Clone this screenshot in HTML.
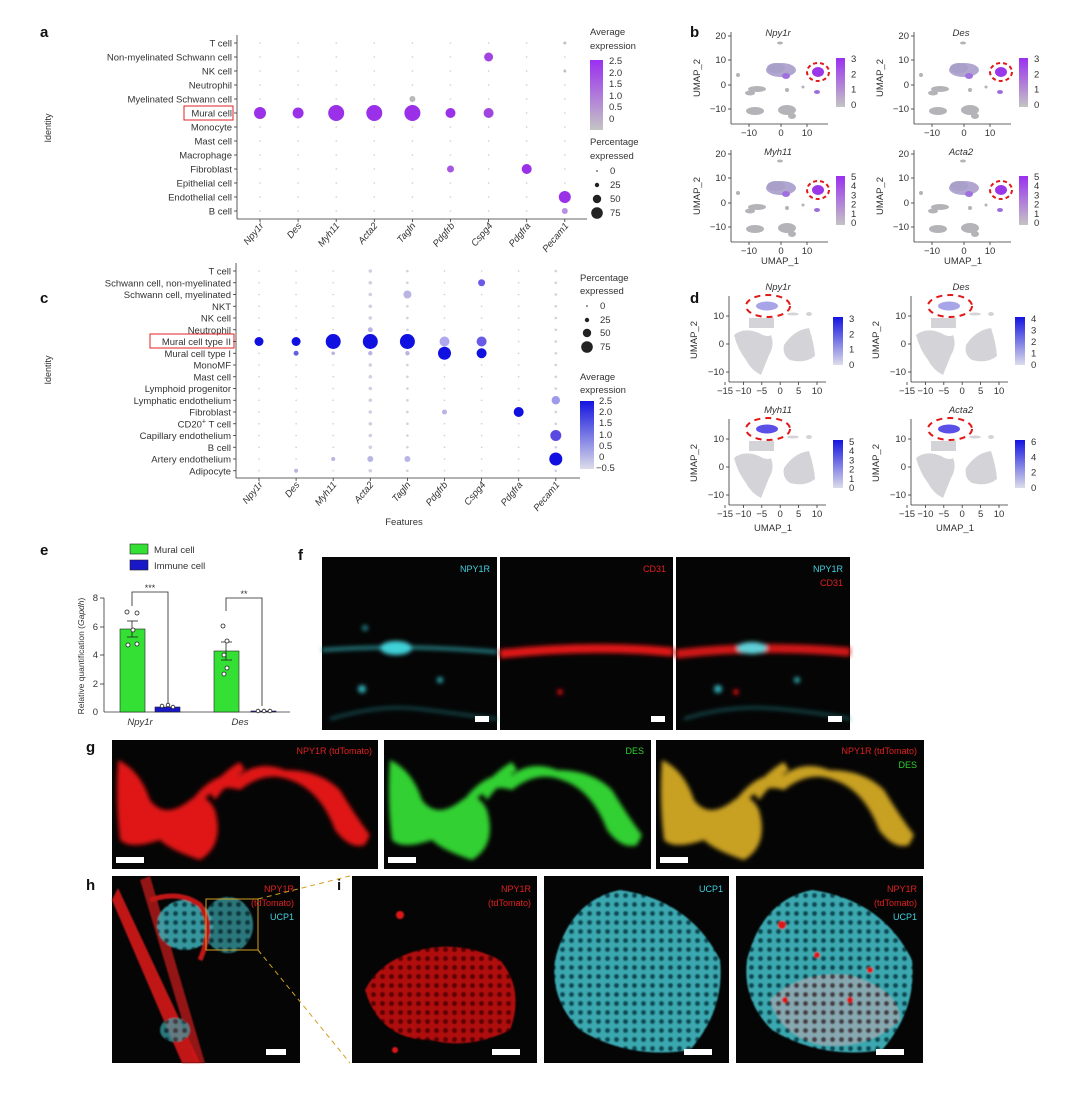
<!DOCTYPE html>
<html><head><meta charset="utf-8">
<style>
html,body{margin:0;padding:0;background:#fff;}
svg{display:block;font-family:"Liberation Sans",sans-serif;}
.t{font-size:9.5px;fill:#333;}
.s{font-size:9px;fill:#333;}
.b{font-size:15px;font-weight:bold;fill:#111;}
.it{font-style:italic;}
</style></head><body>
<svg id="S" width="1080" height="1094" viewBox="0 0 1080 1094" xmlns="http://www.w3.org/2000/svg">
<defs>
<linearGradient id="gp" x1="0" y1="0" x2="0" y2="1"><stop offset="0" stop-color="#9a30f0"/><stop offset="1" stop-color="#c4c4c4"/></linearGradient>
<linearGradient id="gb" x1="0" y1="0" x2="0" y2="1"><stop offset="0" stop-color="#1414e0"/><stop offset="1" stop-color="#dcdcea"/></linearGradient>
<filter id="bl" x="-20%" y="-20%" width="140%" height="140%"><feGaussianBlur stdDeviation="2"/></filter>
<filter id="bl1"><feGaussianBlur stdDeviation="0.8"/></filter>
<pattern id="cy" width="9" height="9" patternUnits="userSpaceOnUse"><rect width="9" height="9" fill="#3aa8b0"/><circle cx="4.5" cy="4.5" r="2.6" fill="#0d4a52"/></pattern>
<pattern id="rd" width="9" height="9" patternUnits="userSpaceOnUse"><rect width="9" height="9" fill="#b01010"/><circle cx="4.5" cy="4.5" r="2.6" fill="#5a0606"/></pattern>
<pattern id="mx" width="9" height="9" patternUnits="userSpaceOnUse"><rect width="9" height="9" fill="#8fa8b0"/><circle cx="4.5" cy="4.5" r="2.6" fill="#4a3a40"/></pattern>
</defs>

<text class="b" x="40" y="37">a</text>
<text class="b" x="40" y="303">c</text>
<text class="b" x="690" y="37">b</text>
<text class="b" x="690" y="303">d</text>
<text class="b" x="40" y="555">e</text>
<text class="b" x="298" y="560">f</text>
<text class="b" x="86" y="752">g</text>
<text class="b" x="86" y="890">h</text>
<text class="b" x="337" y="890">i</text>

<!-- Panel a -->
<g id="pa">
<line x1="237" y1="35" x2="237" y2="219" stroke="#333" stroke-width="0.8"/>
<line x1="237" y1="219" x2="587" y2="219" stroke="#333" stroke-width="0.8"/>
<g class="t" text-anchor="end">
<text x="232" y="46.5">T cell</text>
<text x="232" y="60.5">Non-myelinated Schwann cell</text>
<text x="232" y="74.5">NK cell</text>
<text x="232" y="88.5">Neutrophil</text>
<text x="232" y="102.5">Myelinated Schwann cell</text>
<text x="232" y="116.5">Mural cell</text>
<text x="232" y="130.5">Monocyte</text>
<text x="232" y="144.5">Mast cell</text>
<text x="232" y="158.5">Macrophage</text>
<text x="232" y="172.5">Fibroblast</text>
<text x="232" y="186.5">Epithelial cell</text>
<text x="232" y="200.5">Endothelial cell</text>
<text x="232" y="214.5">B cell</text>
</g>
<rect x="184" y="106" width="49" height="14" fill="none" stroke="#e02020" stroke-width="1"/>
<text class="s" transform="translate(51,128) rotate(-90)" text-anchor="middle">Identity</text>
<g class="t it" text-anchor="end">
<text transform="translate(264,226) rotate(-50)">Npy1r</text>
<text transform="translate(302,226) rotate(-50)">Des</text>
<text transform="translate(340,226) rotate(-50)">Myh11</text>
<text transform="translate(378,226) rotate(-50)">Acta2</text>
<text transform="translate(416,226) rotate(-50)">Tagln</text>
<text transform="translate(455,226) rotate(-50)">Pdgfrb</text>
<text transform="translate(493,226) rotate(-50)">Cspg4</text>
<text transform="translate(531,226) rotate(-50)">Pdgfra</text>
<text transform="translate(569,226) rotate(-50)">Pecam1</text>
</g>
<text class="t" x="590" y="35">Average</text>
<text class="t" x="590" y="49">expression</text>
<rect x="590" y="60" width="13" height="70" fill="url(#gp)"/>
<g class="t"><text x="609" y="64">2.5</text><text x="609" y="76">2.0</text><text x="609" y="87">1.5</text><text x="609" y="99">1.0</text><text x="609" y="110">0.5</text><text x="609" y="122">0</text></g>
<text class="t" x="590" y="145">Percentage</text>
<text class="t" x="590" y="159">expressed</text>
<circle cx="597" cy="171" r="0.8" fill="#222"/><circle cx="597" cy="185" r="2.2" fill="#222"/><circle cx="597" cy="199" r="4.2" fill="#222"/><circle cx="597" cy="213" r="5.8" fill="#222"/>
<g class="t"><text x="610" y="174">0</text><text x="610" y="188">25</text><text x="610" y="202">50</text><text x="610" y="216">75</text></g>
</g>

<!-- Panel c -->
<g id="pc">
<line x1="236" y1="263" x2="236" y2="478" stroke="#333" stroke-width="0.8"/>
<line x1="236" y1="478" x2="580" y2="478" stroke="#333" stroke-width="0.8"/>
<g class="t" text-anchor="end">
<text x="231" y="274.5">T cell</text>
<text x="231" y="286.3">Schwann cell, non-myelinated</text>
<text x="231" y="298">Schwann cell, myelinated</text>
<text x="231" y="309.8">NKT</text>
<text x="231" y="321.5">NK cell</text>
<text x="231" y="333.3">Neutrophil</text>
<text x="231" y="345">Mural cell type II</text>
<text x="231" y="356.8">Mural cell type I</text>
<text x="231" y="368.5">MonoMF</text>
<text x="231" y="380.3">Mast cell</text>
<text x="231" y="392">Lymphoid progenitor</text>
<text x="231" y="403.8">Lymphatic endothelium</text>
<text x="231" y="415.5">Fibroblast</text>
<text x="231" y="427.3">CD20<tspan font-size="7" dy="-4">+</tspan><tspan dy="4"> T cell</tspan></text>
<text x="231" y="439">Capillary endothelium</text>
<text x="231" y="450.8">B cell</text>
<text x="231" y="462.5">Artery endothelium</text>
<text x="231" y="474.3">Adipocyte</text>
</g>
<rect x="150" y="334" width="84" height="14" fill="none" stroke="#e02020" stroke-width="1"/>
<text class="s" transform="translate(51,370) rotate(-90)" text-anchor="middle">Identity</text>
<g class="t it" text-anchor="end">
<text transform="translate(263,485) rotate(-50)">Npy1r</text>
<text transform="translate(300,485) rotate(-50)">Des</text>
<text transform="translate(337,485) rotate(-50)">Myh11</text>
<text transform="translate(374,485) rotate(-50)">Acta2</text>
<text transform="translate(411,485) rotate(-50)">Tagln</text>
<text transform="translate(448,485) rotate(-50)">Pdgfrb</text>
<text transform="translate(486,485) rotate(-50)">Cspg4</text>
<text transform="translate(523,485) rotate(-50)">Pdgfra</text>
<text transform="translate(560,485) rotate(-50)">Pecam1</text>
</g>
<text class="t" x="404" y="525" text-anchor="middle">Features</text>
<text class="t" x="580" y="281">Percentage</text>
<text class="t" x="580" y="294">expressed</text>
<circle cx="587" cy="306" r="0.8" fill="#222"/><circle cx="587" cy="320" r="2.2" fill="#222"/><circle cx="587" cy="333" r="4.2" fill="#222"/><circle cx="587" cy="347" r="5.8" fill="#222"/>
<g class="t"><text x="600" y="309">0</text><text x="600" y="323">25</text><text x="600" y="336">50</text><text x="600" y="350">75</text></g>
<text class="t" x="580" y="380">Average</text>
<text class="t" x="580" y="393">expression</text>
<rect x="580" y="401" width="14" height="68" fill="url(#gb)"/>
<g class="t"><text x="599" y="404">2.5</text><text x="599" y="415">2.0</text><text x="599" y="426">1.5</text><text x="599" y="438">1.0</text><text x="599" y="449">0.5</text><text x="599" y="460">0</text><text x="596" y="471">−0.5</text></g>
</g>

<g id="dots"></g>
<g id="umb"></g>
<g class="t">
<text class="it" x="778" y="36" text-anchor="middle">Npy1r</text>
<text class="it" x="961" y="36" text-anchor="middle">Des</text>
<text class="it" x="778" y="155" text-anchor="middle">Myh11</text>
<text class="it" x="961" y="155" text-anchor="middle">Acta2</text>
<text class="it" x="778" y="290" text-anchor="middle">Npy1r</text>
<text class="it" x="961" y="290" text-anchor="middle">Des</text>
<text class="it" x="778" y="413" text-anchor="middle">Myh11</text>
<text class="it" x="961" y="413" text-anchor="middle">Acta2</text>
<text x="780" y="264" text-anchor="middle">UMAP_1</text>
<text x="963" y="264" text-anchor="middle">UMAP_1</text>
<text x="773" y="531" text-anchor="middle">UMAP_1</text>
<text x="955" y="531" text-anchor="middle">UMAP_1</text>
</g>

<!-- Panel e -->
<g id="pe">
<rect x="130" y="544" width="18" height="10" fill="#33e033" stroke="#222" stroke-width="0.6"/>
<text class="t" x="154" y="553">Mural cell</text>
<rect x="130" y="560" width="18" height="10" fill="#1818c8" stroke="#222" stroke-width="0.6"/>
<text class="t" x="154" y="569">Immune cell</text>
<text class="s" transform="translate(84,656) rotate(-90)" text-anchor="middle" style="font-size:8.5px">Relative quantification (<tspan font-style="italic">Gapdh</tspan>)</text>
<line x1="104" y1="598" x2="104" y2="712" stroke="#333" stroke-width="0.8"/>
<line x1="104" y1="712" x2="290" y2="712" stroke="#333" stroke-width="0.8"/>
<g class="t" text-anchor="end"><text x="98" y="601">8</text><text x="98" y="630">6</text><text x="98" y="658">4</text><text x="98" y="687">2</text><text x="98" y="715">0</text></g>
<g stroke="#333" stroke-width="0.8"><line x1="100" y1="598" x2="104" y2="598"/><line x1="100" y1="627" x2="104" y2="627"/><line x1="100" y1="655" x2="104" y2="655"/><line x1="100" y1="684" x2="104" y2="684"/></g>
<rect x="120" y="629" width="25" height="83" fill="#33e033" stroke="#222" stroke-width="0.6"/>
<rect x="155" y="707" width="25" height="5" fill="#1818c8" stroke="#222" stroke-width="0.6"/>
<rect x="214" y="651" width="25" height="61" fill="#33e033" stroke="#222" stroke-width="0.6"/>
<rect x="251" y="711" width="25" height="1" fill="#1818c8" stroke="#222" stroke-width="0.6"/>
<g stroke="#222" stroke-width="0.8" fill="none">
<line x1="132" y1="621" x2="132" y2="637"/><line x1="127" y1="621" x2="138" y2="621"/><line x1="127" y1="637" x2="138" y2="637"/>
<line x1="226" y1="642" x2="226" y2="660"/><line x1="221" y1="642" x2="232" y2="642"/><line x1="221" y1="660" x2="232" y2="660"/>
<polyline points="132,606 132,592 168,592 168,704"/>
<polyline points="226,611 226,598 262,598 262,706"/>
</g>
<g fill="#fff" stroke="#222" stroke-width="0.8">
<circle cx="127" cy="612" r="2"/><circle cx="137" cy="613" r="2"/><circle cx="133" cy="630" r="2"/><circle cx="128" cy="645" r="2"/><circle cx="137" cy="644" r="2"/>
<circle cx="162" cy="706" r="1.8"/><circle cx="168" cy="705" r="1.8"/><circle cx="173" cy="707" r="1.8"/>
<circle cx="223" cy="626" r="2"/><circle cx="227" cy="641" r="2"/><circle cx="224" cy="655" r="2"/><circle cx="227" cy="668" r="2"/><circle cx="224" cy="674" r="2"/>
<circle cx="258" cy="711" r="1.8"/><circle cx="264" cy="711" r="1.8"/><circle cx="270" cy="711" r="1.8"/>
</g>
<g class="t" text-anchor="middle"><text x="150" y="591" style="font-size:9px">***</text><text x="244" y="597" style="font-size:9px">**</text>
<text class="it" x="140" y="725">Npy1r</text><text class="it" x="240" y="725">Des</text></g>
</g>

<!-- Panel f -->
<g id="pf">
<rect x="322" y="557" width="175" height="173" fill="#050505"/>
<rect x="500" y="557" width="173" height="173" fill="#050505"/>
<rect x="676" y="557" width="174" height="173" fill="#050505"/>
<g filter="url(#bl)">
<path d="M322,650 Q400,644 497,652" stroke="#2a9aa0" stroke-width="3" fill="none"/>
<ellipse cx="396" cy="648" rx="16" ry="7" fill="#40d0d8"/>
<circle cx="362" cy="689" r="4" fill="#30b0b8"/><circle cx="440" cy="680" r="3" fill="#30b0b8"/><circle cx="365" cy="628" r="3" fill="#227f86"/>
<path d="M330,719 Q380,704 420,709 T497,719" stroke="#1c6a70" stroke-width="2" fill="none"/>
<path d="M500,654 Q590,644 673,652" stroke="#e01818" stroke-width="9" fill="none"/>
<circle cx="560" cy="692" r="3" fill="#d01010"/>
<path d="M676,654 Q760,644 850,652" stroke="#d01818" stroke-width="9" fill="none"/>
<ellipse cx="752" cy="648" rx="15" ry="6" fill="#60d0d8"/>
<circle cx="718" cy="689" r="4" fill="#30b0b8"/><circle cx="797" cy="680" r="3" fill="#30b0b8"/><circle cx="736" cy="692" r="3" fill="#d01010"/>
<path d="M684,719 Q730,704 780,709 T850,719" stroke="#1c6a70" stroke-width="2" fill="none"/>
</g>
<g style="font-size:9px"><text x="490" y="572" text-anchor="end" fill="#40d0e0">NPY1R</text>
<text x="666" y="572" text-anchor="end" fill="#e02020">CD31</text>
<text x="843" y="572" text-anchor="end" fill="#40d0e0">NPY1R</text>
<text x="843" y="586" text-anchor="end" fill="#e02020">CD31</text></g>
<g fill="#fff"><rect x="475" y="716" width="14" height="6"/><rect x="651" y="716" width="14" height="6"/><rect x="828" y="716" width="14" height="6"/></g>
</g>

<!-- Panel g -->
<g id="pg">
<rect x="112" y="740" width="266" height="129" fill="#050505"/>
<rect x="384" y="740" width="267" height="129" fill="#050505"/>
<rect x="656" y="740" width="268" height="129" fill="#050505"/>
<g id="gshape" filter="url(#bl)">
<path d="M118,760 Q140,770 150,800 Q165,820 190,800 Q205,790 215,810 Q225,845 200,860 Q170,850 160,840 Q130,850 120,840 Q115,800 118,760 Z"/>
<path d="M190,820 Q210,780 240,790 Q265,770 290,780 Q320,790 335,830 Q350,850 365,845 L370,835 Q355,815 340,790 Q320,770 285,770 Q260,760 240,775 Q210,770 185,810 Z"/>
<path d="M208,790 Q225,770 240,762 L245,770 Q230,780 215,800 Z"/>
</g>
<use href="#gshape" fill="#e01818"/>
<use href="#gshape" fill="#30d030" transform="translate(272,0)"/>
<use href="#gshape" fill="#c8a020" transform="translate(544,0)"/>
<g style="font-size:9px"><text x="372" y="754" text-anchor="end" fill="#e02020">NPY1R (tdTomato)</text>
<text x="644" y="754" text-anchor="end" fill="#30d030">DES</text>
<text x="917" y="754" text-anchor="end" fill="#e02020">NPY1R (tdTomato)</text>
<text x="917" y="768" text-anchor="end" fill="#30d030">DES</text></g>
<g fill="#fff"><rect x="116" y="857" width="28" height="6"/><rect x="388" y="857" width="28" height="6"/><rect x="660" y="857" width="28" height="6"/></g>
</g>

<!-- Panel h -->
<g id="ph">
<rect x="112" y="876" width="188" height="187" fill="#050505"/>
<g filter="url(#bl1)">
<path d="M112,900 L118,888 L200,1063 L182,1063 Z" fill="#c01515"/>
<path d="M140,880 L150,876 L205,1063 L195,1063 Z" fill="#d01a1a" opacity="0.7"/>
<ellipse cx="185" cy="925" rx="28" ry="25" fill="url(#cy)" opacity="0.9"/>
<ellipse cx="228" cy="925" rx="25" ry="28" fill="url(#cy)" opacity="0.7"/>
<ellipse cx="175" cy="1030" rx="15" ry="12" fill="url(#cy)" opacity="0.7"/>
<path d="M150,900 Q180,890 200,905 Q215,925 200,960" stroke="#c01515" stroke-width="5" fill="none"/>
</g>
<rect x="206" y="899" width="52" height="51" fill="none" stroke="#d0a020" stroke-width="1"/>
<g style="font-size:9px" text-anchor="end"><text x="294" y="892" fill="#e02020">NPY1R</text><text x="294" y="906" fill="#e02020">(tdTomato)</text><text x="294" y="920" fill="#40d0e0">UCP1</text></g>
<rect x="266" y="1049" width="20" height="6" fill="#fff"/>
</g>
<g stroke="#d0a020" stroke-width="1" stroke-dasharray="5,4"><line x1="258" y1="899" x2="350" y2="876"/><line x1="258" y1="950" x2="350" y2="1063"/></g>

<!-- Panel i -->
<g id="pi">
<rect x="352" y="876" width="185" height="187" fill="#050505"/>
<rect x="544" y="876" width="185" height="187" fill="#050505"/>
<rect x="736" y="876" width="187" height="187" fill="#050505"/>
<g filter="url(#bl1)">
<path d="M365,990 Q380,960 420,950 Q460,940 500,960 Q525,990 510,1030 Q470,1050 430,1040 Q380,1040 365,990 Z" fill="url(#rd)"/>
<circle cx="400" cy="915" r="4" fill="#e01818"/><circle cx="395" cy="1050" r="3" fill="#e01818"/>
<path d="M555,960 Q570,900 620,890 Q690,900 720,960 Q725,1010 690,1050 Q630,1060 580,1030 Q550,1000 555,960 Z" fill="url(#cy)"/>
<path d="M747,960 Q762,900 812,890 Q882,900 912,960 Q917,1010 882,1050 Q822,1060 772,1030 Q742,1000 747,960 Z" fill="url(#cy)"/>
<path d="M770,1000 Q800,970 850,975 Q900,990 900,1020 Q870,1050 820,1045 Q780,1035 770,1000 Z" fill="url(#mx)" opacity="0.9"/>
<circle cx="817" cy="955" r="3" fill="#e01818"/><circle cx="850" cy="1000" r="3" fill="#e01818"/><circle cx="785" cy="1000" r="3" fill="#e01818"/><circle cx="870" cy="970" r="3" fill="#e01818"/><circle cx="782" cy="925" r="4" fill="#e01818"/>
</g>
<g style="font-size:9px" text-anchor="end"><text x="531" y="892" fill="#e02020">NPY1R</text><text x="531" y="906" fill="#e02020">(tdTomato)</text>
<text x="723" y="892" fill="#40d0e0">UCP1</text>
<text x="917" y="892" fill="#e02020">NPY1R</text><text x="917" y="906" fill="#e02020">(tdTomato)</text><text x="917" y="920" fill="#40d0e0">UCP1</text></g>
<g fill="#fff"><rect x="492" y="1049" width="28" height="6"/><rect x="684" y="1049" width="28" height="6"/><rect x="876" y="1049" width="28" height="6"/></g>
</g>
</svg>
<script>
(function(){
var NS="http://www.w3.org/2000/svg",D=document.getElementById("dots");
function c(g,x,y,r,f){var e=document.createElementNS(NS,"circle");e.setAttribute("cx",x);e.setAttribute("cy",y);e.setAttribute("r",r);e.setAttribute("fill",f);g.appendChild(e);return e;}
function l(g,x1,y1,x2,y2,w,col,da){var e=document.createElementNS(NS,"line");e.setAttribute("x1",x1);e.setAttribute("y1",y1);e.setAttribute("x2",x2);e.setAttribute("y2",y2);e.setAttribute("stroke",col||"#333");e.setAttribute("stroke-width",w||0.8);if(da)e.setAttribute("stroke-dasharray",da);g.appendChild(e);}
var i,j,AY=43,AS=14,CY=271,CS=11.75;
for(j=0;j<13;j++){l(D,234,AY+j*AS,237,AY+j*AS);for(i=0;i<9;i++)c(D,260+i*38.1,AY+j*AS,0.8,"#ccc");}
for(i=0;i<9;i++)l(D,260+i*38.1,219,260+i*38.1,222);
var P="#9a30e8",A=[[0,5,6,P],[1,5,5.5,P],[2,5,8,P],[3,5,8,P],[4,5,8,P],[5,5,5,P],[6,5,5,"#a045e0"],[6,1,4.5,"#a045e0"],[4,4,3,"#b8b8b8"],[5,9,3.5,"#a858e0"],[7,9,5,P],[8,11,6,P],[8,12,3,"#b890e0"],[8,0,1.5,"#c0c0c0"],[8,2,1.5,"#c0c0c0"]];
A.forEach(function(a){c(D,260+a[0]*38.1,AY+a[1]*AS,a[2],a[3]);});
for(j=0;j<18;j++){l(D,233,CY+j*CS,236,CY+j*CS);for(i=0;i<9;i++)c(D,259+i*37.1,CY+j*CS,(i==3?1.8:(i==4||i==8?1.3:0.8)),(i==3||i==4||i==8?"#d0d0e0":"#ccc"));}
for(i=0;i<9;i++)l(D,259+i*37.1,478,259+i*37.1,481);
var B="#1010e0",L="#b8b4e4",C=[[0,6,4.5,B],[1,6,4.5,B],[2,6,7.5,B],[3,6,7.5,B],[4,6,7.5,B],[5,6,5,"#b0a8ec"],[6,6,5,"#6a5ae8"],[1,7,2.5,"#6060e0"],[2,7,1.8,L],[3,7,2.2,L],[4,7,2.2,L],[5,7,6.5,B],[6,7,5,B],[6,1,3.5,"#6a5ae8"],[4,2,4,L],[5,12,2.5,L],[7,12,5,B],[8,11,4.2,"#a098ea"],[8,14,5.5,"#5a4ae2"],[8,16,6.5,B],[3,16,3,L],[4,16,3,L],[2,16,2,L],[1,17,2,L],[3,5,2.5,L]];
C.forEach(function(a){c(D,259+a[0]*37.1,CY+a[1]*CS,a[2],a[3]);});
var U=document.getElementById("umb");
function txt(g,x,y,s,anc,rot){var e=document.createElementNS(NS,"text");e.setAttribute("x",x);e.setAttribute("y",y);e.setAttribute("class","t");if(anc)e.setAttribute("text-anchor",anc);if(rot)e.setAttribute("transform","rotate(-90 "+x+" "+y+")");e.textContent=s;g.appendChild(e);}
function el(g,x,y,rx,ry,f,st,da){var e=document.createElementNS(NS,"ellipse");e.setAttribute("cx",x);e.setAttribute("cy",y);e.setAttribute("rx",rx);e.setAttribute("ry",ry);e.setAttribute("fill",f);if(st){e.setAttribute("stroke",st);e.setAttribute("stroke-width",2);e.setAttribute("stroke-dasharray",da);}g.appendChild(e);}
function rc(g,x,y,w,h,f){var e=document.createElementNS(NS,"rect");e.setAttribute("x",x);e.setAttribute("y",y);e.setAttribute("width",w);e.setAttribute("height",h);e.setAttribute("fill",f);g.appendChild(e);}
[[0,0,["3","2","1","0"]],[183,0,["3","2","1","0"]],[0,118,["5","4","3","2","1","0"]],[183,118,["5","4","3","2","1","0"]]].forEach(function(p){
 var ox=p[0],oy=p[1],ax=731+ox;
 l(U,ax,32+oy,ax,124+oy);l(U,ax,124+oy,ax+97,124+oy);
 [[20,36],[10,60],[0,85],[-10,109]].forEach(function(t){l(U,ax-3,t[1]+oy,ax,t[1]+oy);txt(U,ax-5,t[1]+oy+3,t[0]==-10?"−10":t[0],"end");});
 [[-10,749],[0,781],[10,807]].forEach(function(t){l(U,t[1]+ox,124+oy,t[1]+ox,127+oy);txt(U,t[1]+ox,136+oy,t[0]==-10?"−10":t[0],"middle");});
 txt(U,700+ox,78+oy,"UMAP_2","middle",1);
 var g="#b4b4b8",pu="#a070e0";
 el(U,781+ox,70+oy,15,7,"#b0a6d0");el(U,776+ox,68+oy,9,5,"#a8a0c8");el(U,786+ox,76+oy,4,3,pu);
 el(U,818+ox,72+oy,6,5,"#9a38e8");el(U,817+ox,92+oy,3,2,"#9a70d8");
 el(U,780+ox,43+oy,3,1.5,g);el(U,738+ox,75+oy,2,2,g);
 el(U,757+ox,89+oy,9,3,g);el(U,750+ox,93+oy,5,2.5,g);el(U,787+ox,90+oy,2,2,g);el(U,803+ox,87+oy,1.5,1.5,g);
 el(U,755+ox,111+oy,9,4,g);el(U,787+ox,110+oy,9,5,g);el(U,792+ox,116+oy,4,3,g);
 el(U,818+ox,72+oy,11,9,"none","#e01818","4,3");
 rc(U,836+ox,58+oy,9,49,"url(#gp)");
 var n=p[2];n.forEach(function(s,k){txt(U,851+ox,62+oy+k*(46/(n.length-1)),s,"start");});
});
[[0,0,["3","2","1","0"]],[182,0,["4","3","2","1","0"]],[0,123,["5","4","3","2","1","0"]],[182,123,["6","4","2","0"]]].forEach(function(p,q){
 var ox=p[0],oy=p[1],ax=729+ox;
 l(U,ax,296+oy,ax,382+oy);l(U,ax,382+oy,ax+97,382+oy);
 [[10,316],[0,344],[-10,372]].forEach(function(t){l(U,ax-3,t[1]+oy,ax,t[1]+oy);txt(U,ax-5,t[1]+oy+3,t[0]==-10?"−10":t[0],"end");});
 [-15,-10,-5,0,5,10].forEach(function(v,k){var x=ax-4+k*18.4;l(U,x,382+oy,x,385+oy);txt(U,x,394+oy,v<0?"−"+(-v):v,"middle");});
 txt(U,ax-32,340+oy,"UMAP_2","middle",1);
 var g="#d4d4d8";
 var path=document.createElementNS(NS,"path");
 path.setAttribute("d","M"+(ax+5)+","+(335+oy)+" q10,-8 25,-2 q8,5 12,2 q4,10 -2,20 q-4,10 -8,20 q-10,-5 -15,-15 q-8,-10 -12,-25 z M"+(ax+55)+","+(345+oy)+" q10,-15 25,-17 q5,15 6,28 q-10,8 -25,4 q-8,-5 -6,-15 z M"+(ax+20)+","+(318+oy)+" h25 v10 h-25 z");
 path.setAttribute("fill",g);U.appendChild(path);
 var cc=q<2?"#a8a4e8":"#5a50e8";
 el(U,ax+38,306+oy,11,4.5,cc);el(U,ax+64,314+oy,6,1.5,g);el(U,ax+80,314+oy,3,2,g);
 el(U,ax+39,306+oy,22,11,"none","#e01818","6,5");
 rc(U,833+ox,317+oy,10,48,"url(#gb)");
 var n=p[2];n.forEach(function(s,k){txt(U,849+ox,322+oy+k*(46/(n.length-1)),s,"start");});
});
})();
</script>
</body></html>
